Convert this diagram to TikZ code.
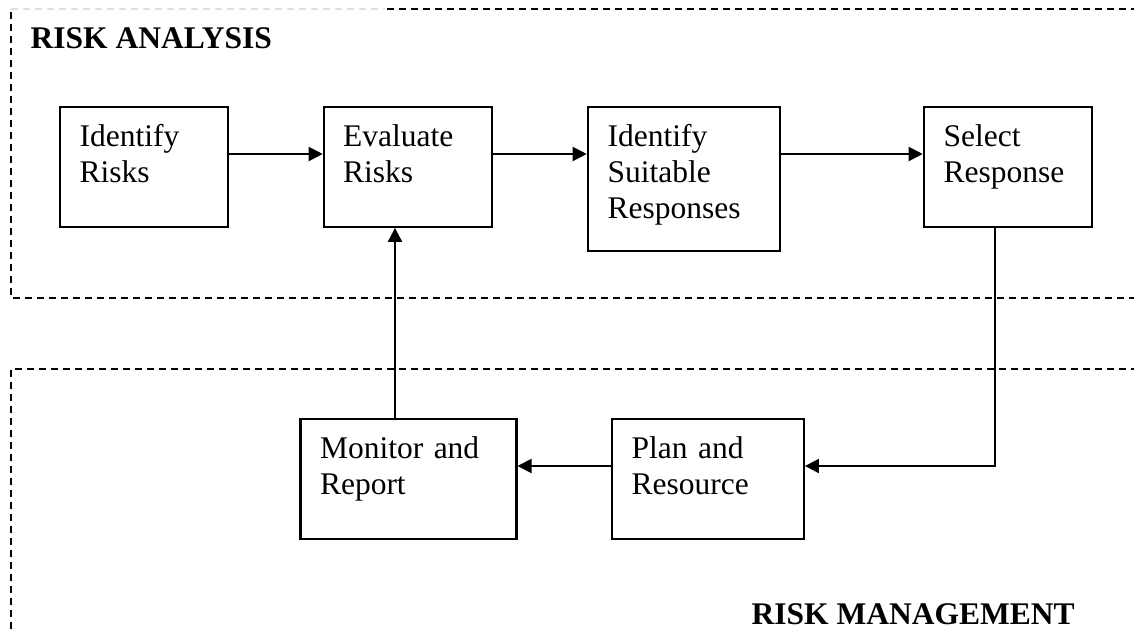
\documentclass[tikz,border=0pt]{standalone}
\usepackage{fontspec}
\setmainfont{Liberation Serif}
\usetikzlibrary{arrows.meta}
\begin{document}
\begin{tikzpicture}[x=1pt,y=-1pt,
  stepbox/.style={draw, line width=2.2pt, rectangle, inner sep=0pt, anchor=north west},
  boxtext/.style={anchor=base west, inner sep=0pt, text width=220pt, align=left,
    font=\fontsize{31.5}{36}\selectfont},
  title/.style={anchor=base west, inner sep=0pt, font=\fontsize{31.5}{36}\selectfont\bfseries},
  frame/.style={line width=2pt, dash pattern=on 7pt off 5pt},
  arr/.style={line width=2pt, -{Triangle[length=14pt,width=14pt]}},
  link/.style={line width=2pt}]
\useasboundingbox (0,0) rectangle (1134,629);
\clip (0,0) rectangle (1134,629);

% dashed regions
\draw[frame, black!12] (11,9.3) -- (385,9.3);
\draw[frame] (1150,9.3) -- (385,9.3);
\draw[frame] (11,12) -- (11,297.7) -- (1150,297.7);
\draw[frame] (1150,369.3) -- (11,369.3) -- (11,650);

% region titles
\node[title] (tanalysis) at (30.5,48.3) {RISK ANALYSIS};
\node[title] (tmanage) at (751.5,624.5) {RISK MANAGEMENT};

% process boxes
\node[stepbox, minimum width=168pt, minimum height=120pt] (identify) at (58.7,105.7) {};
\node[stepbox, minimum width=168.3pt, minimum height=120pt] (evaluate) at (322.7,105.7) {};
\node[stepbox, minimum width=192.3pt, minimum height=144.3pt] (suitable) at (586.7,105.7) {};
\node[stepbox, minimum width=168.3pt, minimum height=120pt] (select) at (922.7,105.7) {};
\node[stepbox, minimum width=216pt, minimum height=120pt] (monitor) at (299.3,417.7) {};
\node[stepbox, minimum width=191.7pt, minimum height=120pt] (plan) at (611,417.7) {};

% box texts
\node[boxtext] (identifyt) at ([xshift=20.8pt,yshift=-41pt]identify.north west) {Identify\\Risks};
\node[boxtext] (evaluatet) at ([xshift=20.3pt,yshift=-41pt]evaluate.north west) {Evaluate\\Risks};
\node[boxtext] (suitablet) at ([xshift=20.8pt,yshift=-40.5pt]suitable.north west) {Identify\\Suitable\\Responses};
\node[boxtext] (selectt) at ([xshift=20.8pt,yshift=-41pt]select.north west) {Select\\Response};
\node[boxtext] (monitort) at ([xshift=20.5pt,yshift=-40.6pt]monitor.north west) {Monitor and\\Report};
\node[boxtext] (plant) at ([xshift=20.5pt,yshift=-40.6pt]plan.north west) {Plan and\\Resource};

% connectors
\draw[arr] ([yshift=-48.3pt]identify.north east) -- ([yshift=-48.3pt]evaluate.north west);
\draw[arr] ([yshift=-48.3pt]evaluate.north east) -- ([yshift=-48.3pt]suitable.north west);
\draw[arr] ([yshift=-48.3pt]suitable.north east) -- ([yshift=-48.3pt]select.north west);
\coordinate (drop) at ([xshift=72.3pt]select.south west);
\coordinate (planin) at ([yshift=-48.3pt]plan.north east);
\draw[arr] (drop) |- (planin);
\draw[arr] ([yshift=-48.3pt]plan.north west) -- ([yshift=-48.3pt]monitor.north east);
\draw[arr] ([xshift=95.7pt]monitor.north west) -- ([xshift=72.3pt]evaluate.south west);
\end{tikzpicture}
\end{document}
